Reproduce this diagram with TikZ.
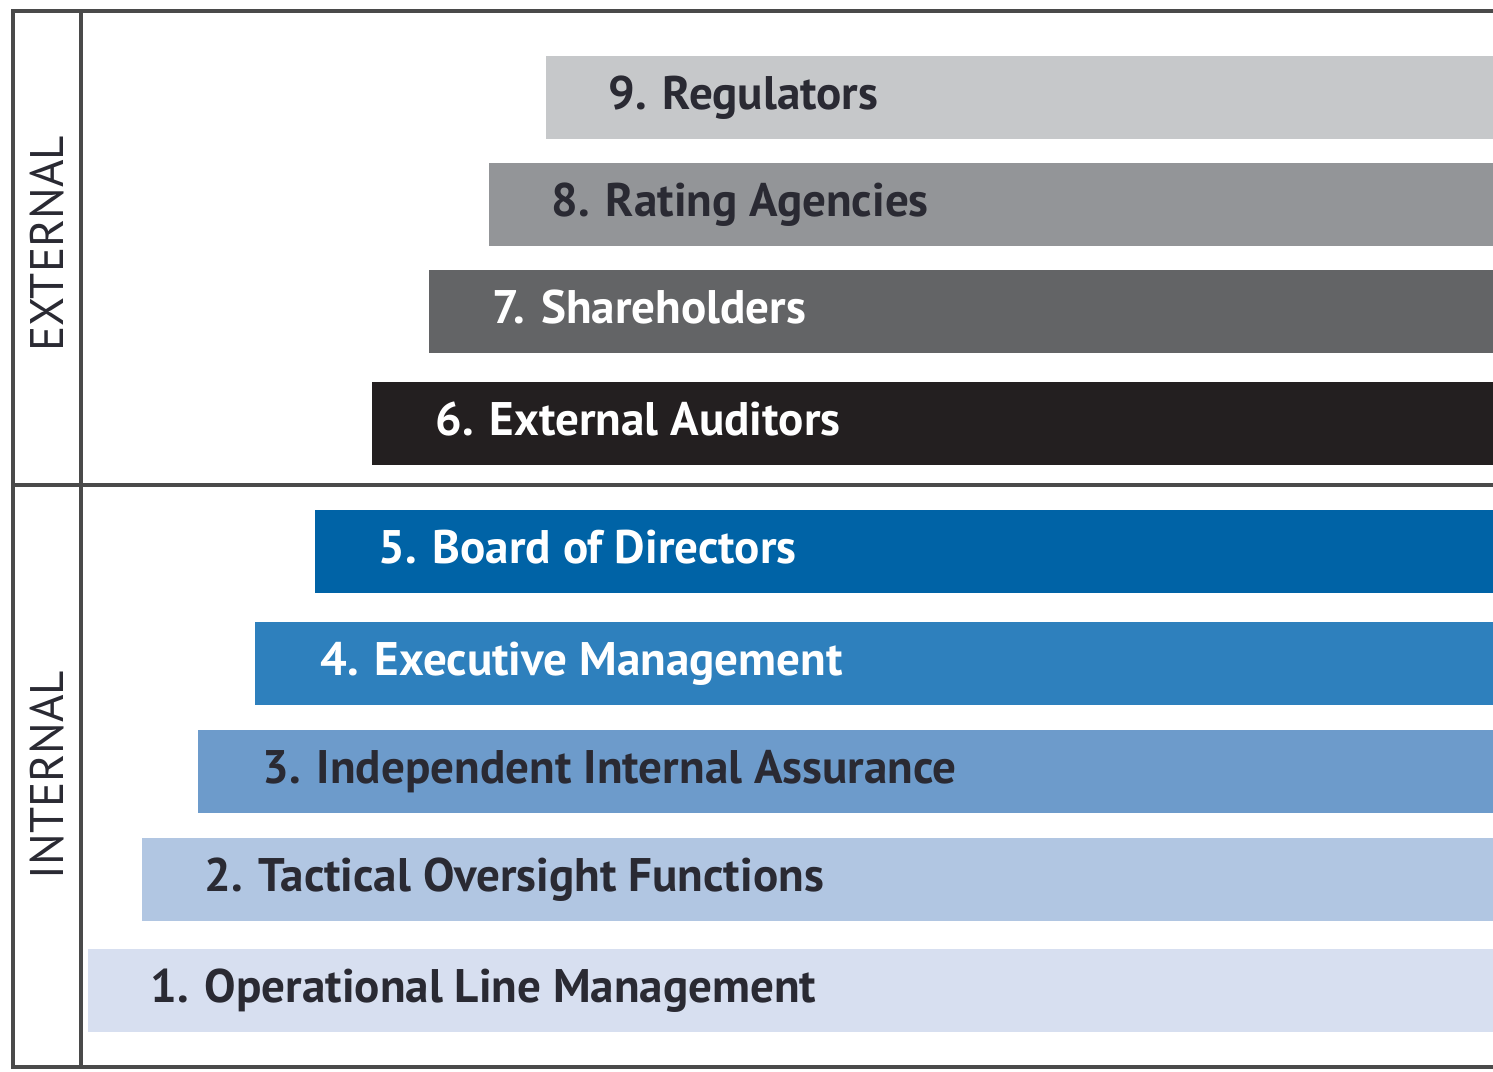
\documentclass[tikz,border=0pt]{standalone}
\usepackage{fontspec}
\newfontfamily\barfont{PT Sans}
\newfontfamily\sidefont{PT Sans}
\definecolor{c9}{HTML}{C6C8CA}
\definecolor{c8}{HTML}{939598}
\definecolor{c7}{HTML}{636466}
\definecolor{c6}{HTML}{231F20}
\definecolor{c5}{HTML}{0063A6}
\definecolor{c4}{HTML}{2E80BD}
\definecolor{c3}{HTML}{6D9BCB}
\definecolor{c2}{HTML}{B1C6E2}
\definecolor{c1}{HTML}{D7DFF0}
\definecolor{darktext}{HTML}{2A2A33}
\definecolor{frame}{HTML}{4A4A4A}
\tikzset{
  bar/.style={rectangle, draw=none, inner sep=0pt, minimum height=0.83cm, anchor=north west},
  lbl/.style={font=\barfont\bfseries\fontsize{13.4}{14}\selectfont, inner sep=0pt, anchor=base west},
  darklbl/.style={lbl, text=darktext},
  lightlbl/.style={lbl, text=white},
  side/.style={font=\sidefont\fontsize{13.4}{14}\selectfont, text=darktext, rotate=90, inner sep=0pt},
  rule/.style={draw=frame, line width=0.04cm}
}
\begin{document}
\begin{tikzpicture}
\useasboundingbox (0,0) rectangle (14.93,-10.71);
% bars, from top to bottom
\foreach \n/\x/\y/\c in {9/5.45/0.55/c9, 8/4.88/1.62/c8, 7/4.28/2.69/c7, 6/3.71/3.81/c6,
  5/3.14/5.09/c5, 4/2.54/6.21/c4, 3/1.97/7.29/c3, 2/1.41/8.37/c2, 1/0.87/9.48/c1}
  \node[bar, fill=\c, minimum width={14.93cm-\x cm}] (b\n) at (\x,-\y) {};
% labels
\node[darklbl]  (t9) at ([xshift=0.63cm,yshift=-0.12cm]b9.west) {9. Regulators};
\node[darklbl]  (t8) at ([xshift=0.63cm,yshift=-0.12cm]b8.west) {8. Rating Agencies};
\node[lightlbl] (t7) at ([xshift=0.64cm,yshift=-0.12cm]b7.west) {7. Shareholders};
\node[lightlbl] (t6) at ([xshift=0.64cm,yshift=-0.12cm]b6.west) {6. External Auditors};
\node[lightlbl] (t5) at ([xshift=0.64cm,yshift=-0.12cm]b5.west) {5. Board of Directors};
\node[lightlbl] (t4) at ([xshift=0.66cm,yshift=-0.12cm]b4.west) {4. Executive Management};
\node[darklbl]  (t3) at ([xshift=0.65cm,yshift=-0.12cm]b3.west) {3. Independent Internal Assurance};
\node[darklbl]  (t2) at ([xshift=0.63cm,yshift=-0.12cm]b2.west) {2. Tactical Oversight Functions};
\node[darklbl]  (t1) at ([xshift=0.63cm,yshift=-0.12cm]b1.west) {1. Operational Line Management};
% frame
\coordinate (tl) at (0.13,-0.11);
\coordinate (tr) at (14.93,-0.11);
\coordinate (ml) at (0.13,-4.85);
\coordinate (mr) at (14.93,-4.85);
\coordinate (bl) at (0.13,-10.67);
\coordinate (br) at (14.93,-10.67);
\coordinate (dt) at (0.81,-0.11);
\coordinate (db) at (0.81,-10.67);
\draw[rule] (tr) -- (tl) -- (bl) -- (br);
\draw[rule] (dt) -- (db);
\draw[rule] (ml) -- (mr);
% section names
\node[side] (ext) at (0.47,-2.44) {EXTERNAL};
\node[side] (int) at (0.47,-7.75) {INTERNAL};
\end{tikzpicture}
\end{document}
